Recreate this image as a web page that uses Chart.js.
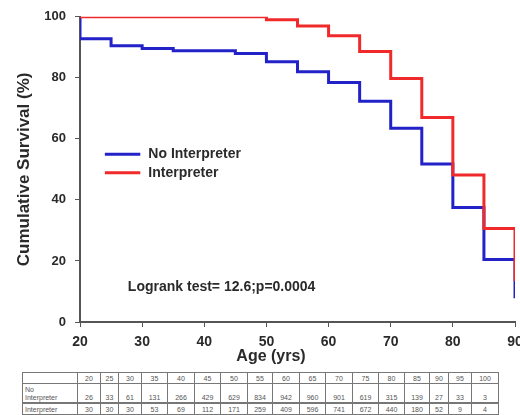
<!DOCTYPE html>
<html>
<head>
<meta charset="utf-8">
<script src="https://cdn.jsdelivr.net/npm/chart.js@4.4.0/dist/chart.umd.min.js"></script>
<style>
  html, body { margin: 0; padding: 0; background: #fff; overflow: hidden; }
  #wrap { position: relative; width: 520px; height: 415px; overflow: hidden; }
  #box { position: absolute; left: 0; top: 0; width: 535px; height: 370px; }
  table.risk {
    position: absolute; left: 22px; top: 372px; width: 476px;
    border-collapse: collapse; table-layout: fixed;
    font-family: "Liberation Sans", Arial, sans-serif; font-size: 7px; color: #555;
  }
  table.risk td { border: 1px solid #777; padding: 0 2px; text-align: center; vertical-align: bottom; line-height: 8px; overflow: hidden; white-space: nowrap; }
  table.risk td.lab { text-align: left; }
  table.risk tr.h td { height: 10px; }
  table.risk tr.a td { height: 18px; }
  table.risk tr.b td { height: 10px; border-top: 2px solid #777; }
</style>
</head>
<body>
<div id="wrap">
  <div id="box"><canvas id="myChart"></canvas></div>
  <table class="risk" id="risk"></table>
</div>
<script>
const noInterpAges = [20, 20, 25, 30, 35, 45, 50, 55, 60, 65, 70, 75, 80, 85, 90];
const noInterpSurv = [100, 92.8, 90.5, 89.6, 88.9, 88.0, 85.3, 82.0, 78.5, 72.3, 63.5, 51.8, 37.5, 20.5, 7.8];

const interpAges = [20, 50, 55, 60, 65, 70, 75, 80, 85, 90];
const interpSurv = [100, 99.0, 97.0, 93.8, 88.6, 79.8, 67.0, 48.2, 30.6, 13.4];

const tableAges = [20, 25, 30, 35, 40, 45, 50, 55, 60, 65, 70, 75, 80, 85, 90, 95, 100];
const noInterpAtRisk = [26, 33, 61, 131, 266, 429, 629, 834, 942, 960, 901, 619, 315, 139, 27, 33, 3];
const interpAtRisk = [30, 30, 30, 53, 69, 112, 171, 259, 409, 596, 741, 672, 440, 180, 52, 9, 4];

const colWidths = [55, 23, 18, 23, 26, 27, 26, 27, 25, 27, 26, 27, 26, 26, 25, 19, 23, 27];

const blue = "#2222c8";
const red = "#f02a2a";
const font = "'Liberation Sans', Arial, sans-serif";

function toPoints(xs, ys) {
  return xs.map((x, i) => ({ x: x, y: ys[i] }));
}

// legend, logrank text and x title (title sits left of the plot centre in the original)
const extras = {
  id: "extras",
  afterDatasetsDraw(chart) {
    const ctx = chart.ctx;
    const x = chart.scales.x;
    const y = chart.scales.y;
    ctx.save();
    ctx.lineWidth = 3;
    ctx.strokeStyle = blue;
    ctx.beginPath();
    ctx.moveTo(x.getPixelForValue(24), y.getPixelForValue(55));
    ctx.lineTo(x.getPixelForValue(29.7), y.getPixelForValue(55));
    ctx.stroke();
    ctx.strokeStyle = red;
    ctx.beginPath();
    ctx.moveTo(x.getPixelForValue(24), y.getPixelForValue(48.9));
    ctx.lineTo(x.getPixelForValue(29.7), y.getPixelForValue(48.9));
    ctx.stroke();
    ctx.fillStyle = "#2a2a2a";
    ctx.font = "bold 14px " + font;
    ctx.textBaseline = "middle";
    ctx.fillText("No Interpreter", x.getPixelForValue(31), y.getPixelForValue(55));
    ctx.fillText("Interpreter", x.getPixelForValue(31), y.getPixelForValue(48.9));
    ctx.fillText("Logrank test= 12.6;p=0.0004", x.getPixelForValue(27.7), y.getPixelForValue(11.4));
    ctx.font = "bold 16px " + font;
    ctx.textAlign = "center";
    ctx.fillText("Age (yrs)", 271, 357);
    ctx.restore();
  }
};

const data = {
  datasets: [
    {
      label: "No Interpreter",
      borderColor: blue,
      backgroundColor: blue,
      data: toPoints(noInterpAges, noInterpSurv),
      stepped: true,
      borderWidth: 3,
      pointRadius: 0,
      order: 1,
    },
    {
      label: "Interpreter",
      borderColor: red,
      backgroundColor: red,
      data: toPoints(interpAges, interpSurv),
      stepped: true,
      borderWidth: 3,
      pointRadius: 0,
      order: 0,
    },
  ],
};

const config = {
  type: "line",
  data: data,
  plugins: [extras],
  options: {
    responsive: true,
    maintainAspectRatio: false,
    animation: false,
    layout: { padding: { top: 13, left: 10, right: 20, bottom: 0 } },
    plugins: { legend: { display: false }, tooltip: { enabled: false } },
    scales: {
      x: {
        type: "linear",
        min: 20,
        max: 90,
        ticks: { stepSize: 10, color: "#2a2a2a", font: { family: font, size: 14, weight: "bold" }, padding: 7 },
        grid: { drawOnChartArea: false, drawTicks: true, tickLength: 5, color: "#555" },
        border: { color: "#555", width: 2 },
        afterFit(scale) { scale.height = 48; },
      },
      y: {
        min: 0,
        max: 100,
        ticks: { stepSize: 20, color: "#2a2a2a", font: { family: font, size: 13, weight: "bold" }, padding: 9 },
        grid: { drawOnChartArea: false, drawTicks: true, tickLength: 5, color: "#555" },
        border: { color: "#555", width: 2 },
        title: { display: true, text: "Cumulative Survival (%)", color: "#2a2a2a", font: { family: font, size: 17, weight: "bold" }, padding: { top: 4, bottom: 0 } },
        afterFit(scale) { scale.width = 70; },
      },
    },
  },
};

const myChart = new Chart(document.getElementById("myChart"), config);

// number-at-risk table
const table = document.getElementById("risk");
let html = "<colgroup>" + colWidths.map(w => '<col style="width:' + w + 'px">').join("") + "</colgroup>";
html += '<tr class="h"><td class="lab"></td>' + tableAges.map(a => "<td>" + a + "</td>").join("") + "</tr>";
html += '<tr class="a"><td class="lab">No<br>Interpreter</td>' + noInterpAtRisk.map(v => "<td>" + v + "</td>").join("") + "</tr>";
html += '<tr class="b"><td class="lab">Interpreter</td>' + interpAtRisk.map(v => "<td>" + v + "</td>").join("") + "</tr>";
table.innerHTML = html;
</script>
</body>
</html>
